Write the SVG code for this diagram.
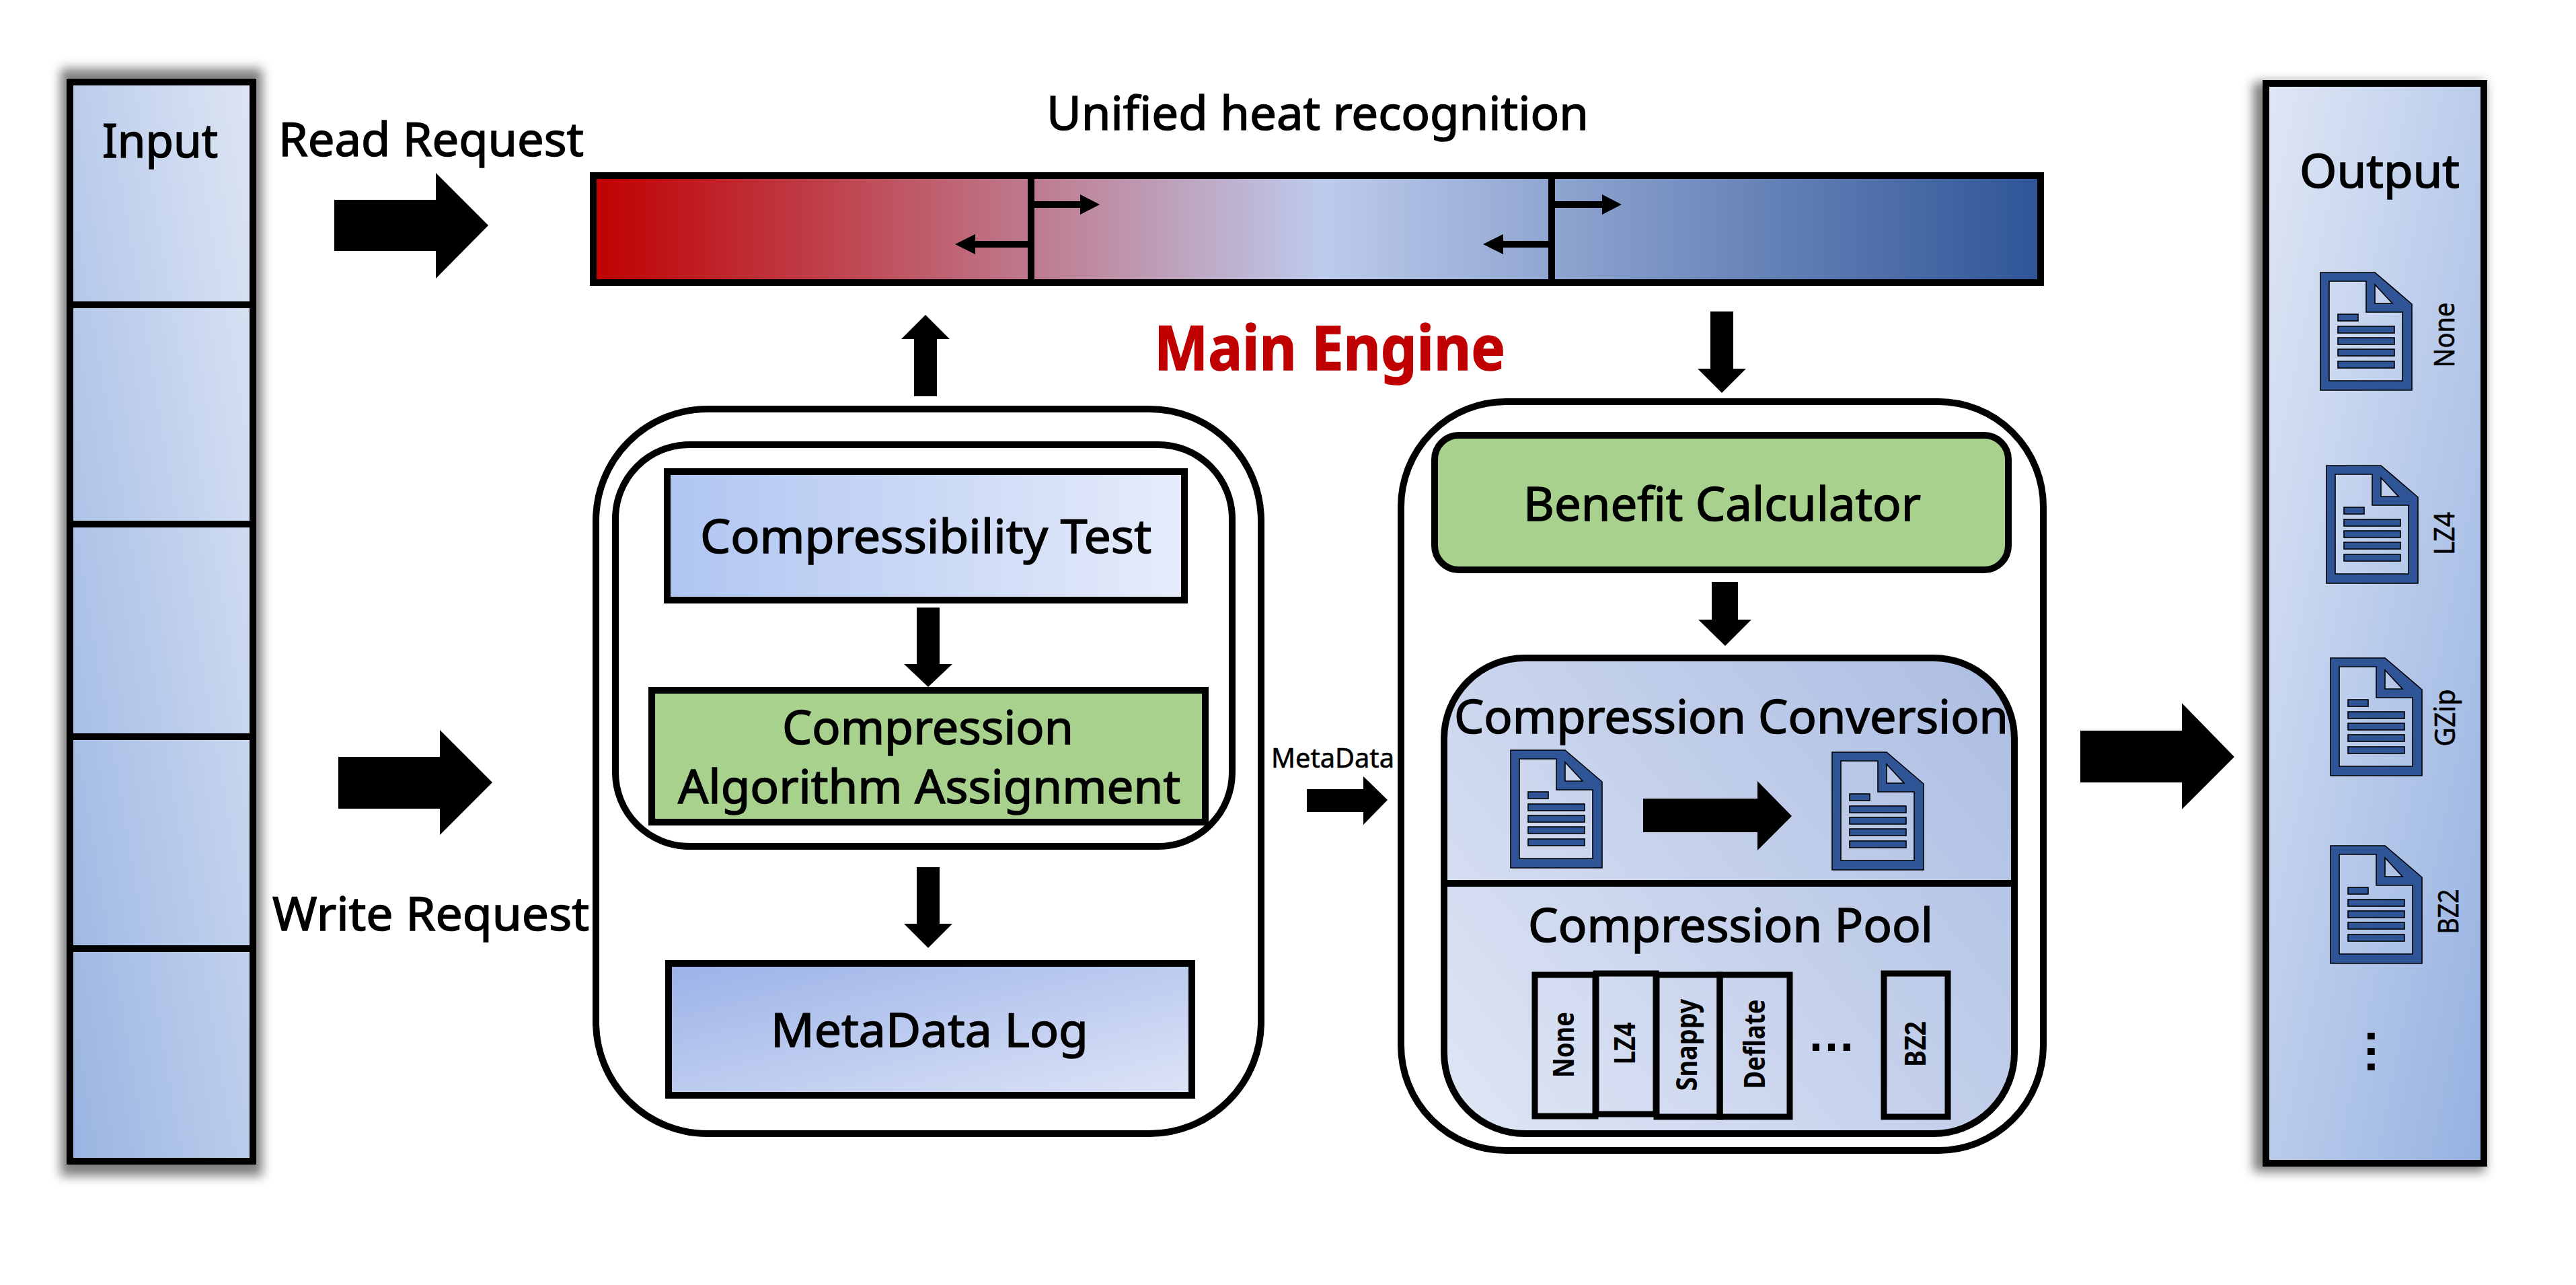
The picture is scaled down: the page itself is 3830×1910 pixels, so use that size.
<svg xmlns="http://www.w3.org/2000/svg" xmlns:xlink="http://www.w3.org/1999/xlink" width="3830" height="1910" viewBox="0 0 3830 1910">
<style>
text{font-family:"Noto Sans","Open Sans","Liberation Sans",sans-serif;fill:#000;font-size:69px;stroke:#000;stroke-width:1.5px}
.m{text-anchor:middle}
.box{stroke:#000;stroke-width:10;fill:#fff}
.s8{stroke:#000;stroke-width:9;fill:none}
.ln{stroke:#000;stroke-width:10;fill:none}
.arrow{fill:#000;stroke:none}
.lab{font-size:43px;font-weight:700;stroke:none}
.olab{font-size:41px;stroke-width:.6px}
.doc{fill:#2F5597;stroke:#000;stroke-width:1.6;fill-rule:evenodd}
.shadow{fill:#000;fill-opacity:.5;filter:url(#blur)}
</style>
<defs>
<filter id="blur" x="-20%" y="-5%" width="140%" height="110%"><feGaussianBlur stdDeviation="8"/></filter>
<linearGradient id="gIn" gradientUnits="userSpaceOnUse" x1="104" y1="1726" x2="632" y2="1636"><stop offset="0" stop-color="#99B4E2"/><stop offset="1" stop-color="#DDE5F4"/></linearGradient>
<linearGradient id="gOut" gradientUnits="userSpaceOnUse" x1="3369" y1="124" x2="3992" y2="250"><stop offset="0" stop-color="#E0E7F5"/><stop offset="1" stop-color="#95B1E1"/></linearGradient>
<linearGradient id="gBar" x1="0" x2="1" y1="0" y2="0"><stop offset="0" stop-color="#C00000"/><stop offset=".504" stop-color="#BDCBEC"/><stop offset="1" stop-color="#2F5597"/></linearGradient>
<linearGradient id="gTest" x1="0" x2="1" y1="0" y2="0"><stop offset="0" stop-color="#AFC5F1"/><stop offset="1" stop-color="#E6ECFA"/></linearGradient>
<linearGradient id="gLog" x1="0" y1="0" x2="1" y2="1"><stop offset="0" stop-color="#9BB2E8"/><stop offset="1" stop-color="#DDE4F6"/></linearGradient>
<linearGradient id="gComp" gradientUnits="userSpaceOnUse" x1="2147" y1="1685" x2="2995" y2="978"><stop offset="0" stop-color="#E0E6F5"/><stop offset="1" stop-color="#ABBDE2"/></linearGradient>
<g id="docIcon">
<path class="doc" d="M0 0H81L136 47V175H0ZM13 13V161H122V59H68V13ZM81 18V46H107Z"/>
<rect class="doc" x="26" y="62" width="30" height="10"/>
<rect class="doc" x="26" y="80" width="84" height="10"/>
<rect class="doc" x="26" y="97" width="84" height="10"/>
<rect class="doc" x="26" y="114" width="84" height="10"/>
<rect class="doc" x="26" y="132" width="84" height="10"/>
</g>
</defs>
<rect width="3830" height="1910" fill="#fff"/>

<g id="input">
<rect class="shadow" x="90" y="102" width="300" height="1646"/>
<rect x="104" y="122" width="272" height="1604" fill="url(#gIn)" stroke="#000" stroke-width="10"/>
<path class="ln" d="M104 453H376M104 779H376M104 1095H376M104 1410H376"/>
<text x="238" y="234" class="m" textLength="172" lengthAdjust="spacingAndGlyphs">Input</text>
</g>

<g id="labels">
<text x="414" y="232" textLength="454" lengthAdjust="spacingAndGlyphs">Read Request</text>
<text x="405" y="1383" textLength="471" lengthAdjust="spacingAndGlyphs">Write Request</text>
<text x="1556" y="193" textLength="806" lengthAdjust="spacingAndGlyphs">Unified heat recognition</text>
<text x="1716" y="550" textLength="522" lengthAdjust="spacingAndGlyphs" style="fill:#C00000;stroke:#C00000;font-size:92px;font-weight:700">Main Engine</text>
<text x="1890" y="1141" textLength="183" lengthAdjust="spacingAndGlyphs" style="font-size:40px;stroke-width:.6px">MetaData</text>
</g>

<g id="heat-bar">
<rect x="882" y="261" width="2152" height="159" fill="url(#gBar)" stroke="#000" stroke-width="10"/>
<path d="M1533 261V420M2307 261V420" stroke="#000" stroke-width="10" fill="none"/>
<path class="arrow" d="M1538 299H1606V289L1635 304L1606 319V309H1538Z"/>
<path class="arrow" d="M1528 358H1450V348L1420 363L1450 378V368H1528Z"/>
<path class="arrow" d="M2312 299H2382V289L2411 304L2382 319V309H2312Z"/>
<path class="arrow" d="M2302 358H2235V348L2205 363L2235 378V368H2302Z"/>
</g>

<g id="left-block">
<rect class="box" x="886" y="608" width="989" height="1077" rx="166"/>
<rect class="box" x="915" y="661" width="917" height="597" rx="110"/>
</g>
<g id="compressibility-test">
<rect x="992" y="701" width="769" height="191" fill="url(#gTest)" stroke="#000" stroke-width="10"/>
<text x="1041" y="822" textLength="671" lengthAdjust="spacingAndGlyphs">Compressibility Test</text>
</g>
<g id="algorithm-assignment">
<rect x="969" y="1026" width="823" height="196" fill="#A9D18E" stroke="#000" stroke-width="10"/>
<text x="1163" y="1106" textLength="433" lengthAdjust="spacingAndGlyphs">Compression</text>
<text x="1008" y="1194" textLength="747" lengthAdjust="spacingAndGlyphs">Algorithm Assignment</text>
</g>
<g id="metadata-log">
<rect x="994" y="1432" width="778" height="196" fill="url(#gLog)" stroke="#000" stroke-width="10"/>
<text x="1146" y="1556" textLength="472" lengthAdjust="spacingAndGlyphs">MetaData Log</text>
</g>

<g id="right-block">
<rect class="box" x="2083" y="597" width="955" height="1113" rx="156"/>
</g>
<g id="benefit-calculator">
<rect x="2133" y="647" width="853" height="200" rx="36" fill="#A9D18E" stroke="#000" stroke-width="10"/>
<text x="2265" y="774" textLength="591" lengthAdjust="spacingAndGlyphs">Benefit Calculator</text>
</g>
<g id="compression-module">
<rect x="2147" y="978" width="848" height="707" rx="120" fill="url(#gComp)" stroke="#000" stroke-width="10"/>
<path class="ln" d="M2147 1313H2995"/>
<text x="2162" y="1090" textLength="824" lengthAdjust="spacingAndGlyphs">Compression Conversion</text>
<use xlink:href="#docIcon" href="#docIcon" x="2246" y="1115"/>
<path class="arrow" d="M2443 1187H2613V1161L2664 1213L2613 1264V1237H2443Z"/>
<use xlink:href="#docIcon" href="#docIcon" x="2724" y="1118"/>
<text x="2272" y="1400" textLength="602" lengthAdjust="spacingAndGlyphs">Compression Pool</text>
<g id="pool">
<rect class="s8" x="2282" y="1449" width="90" height="210"/>
<rect class="s8" x="2373" y="1447" width="89" height="209"/>
<rect class="s8" x="2463" y="1449" width="94" height="211"/>
<rect class="s8" x="2557" y="1449" width="104" height="211"/>
<rect class="s8" x="2801" y="1447" width="95" height="213"/>
<text class="m lab" transform="translate(2340,1553) rotate(-90)" textLength="98" lengthAdjust="spacingAndGlyphs">None</text>
<text class="m lab" transform="translate(2431,1551) rotate(-90)" textLength="63" lengthAdjust="spacingAndGlyphs">LZ4</text>
<text class="m lab" transform="translate(2523,1553) rotate(-90)" textLength="137" lengthAdjust="spacingAndGlyphs">Snappy</text>
<text class="m lab" transform="translate(2624,1552) rotate(-90)" textLength="133" lengthAdjust="spacingAndGlyphs">Deflate</text>
<text class="m lab" transform="translate(2863,1552) rotate(-90)" textLength="68" lengthAdjust="spacingAndGlyphs">BZ2</text>
<text class="m" x="2723" y="1562" style="font-family:'Liberation Sans',sans-serif;font-size:72px;font-weight:700;stroke:none">…</text>
</g>
</g>

<g id="output">
<rect class="shadow" x="3350" y="122" width="345" height="1620"/>
<rect x="3369" y="124" width="324" height="1605" fill="url(#gOut)" stroke="#000" stroke-width="10"/>
<text x="3419" y="279" textLength="238" lengthAdjust="spacingAndGlyphs">Output</text>
<use xlink:href="#docIcon" href="#docIcon" x="3450" y="405"/>
<use xlink:href="#docIcon" href="#docIcon" x="3459" y="692"/>
<use xlink:href="#docIcon" href="#docIcon" x="3465" y="978"/>
<use xlink:href="#docIcon" href="#docIcon" x="3465" y="1257"/>
<text class="m olab" transform="translate(3649,498) rotate(-90)" textLength="97" lengthAdjust="spacingAndGlyphs">None</text>
<text class="m olab" transform="translate(3649,793) rotate(-90)" textLength="64" lengthAdjust="spacingAndGlyphs">LZ4</text>
<text class="m olab" transform="translate(3650,1067) rotate(-90)" textLength="85" lengthAdjust="spacingAndGlyphs">GZip</text>
<text class="m olab" transform="translate(3655,1355) rotate(-90)" textLength="67" lengthAdjust="spacingAndGlyphs">BZ2</text>
<text class="m" transform="translate(3520,1563) rotate(90)" style="font-family:'Liberation Sans',sans-serif;font-size:72px;font-weight:700;stroke:none">…</text>
</g>

<g id="connectors">
<path class="arrow" d="M497 297H648V257L726 335L648 414V373H497Z"/>
<path class="arrow" d="M503 1125H654V1085L732 1163L654 1241V1202H503Z"/>
<path class="arrow" d="M1359 589V504H1340L1376 468L1412 504H1393V589Z"/>
<path class="arrow" d="M2543 463H2577V548H2596L2560 584L2524 548H2543Z"/>
<path class="arrow" d="M1363 903H1397V987H1416L1380 1021L1344 987H1363Z"/>
<path class="arrow" d="M1363 1289H1397V1373H1416L1380 1409L1344 1373H1363Z"/>
<path class="arrow" d="M2545 865H2584V921H2604L2565 960L2525 921H2545Z"/>
<path class="arrow" d="M1943 1173H2027V1154L2063 1189L2027 1226V1207H1943Z"/>
<path class="arrow" d="M3093 1086H3244V1045L3322 1125L3244 1203V1163H3093Z"/>
</g>
</svg>
